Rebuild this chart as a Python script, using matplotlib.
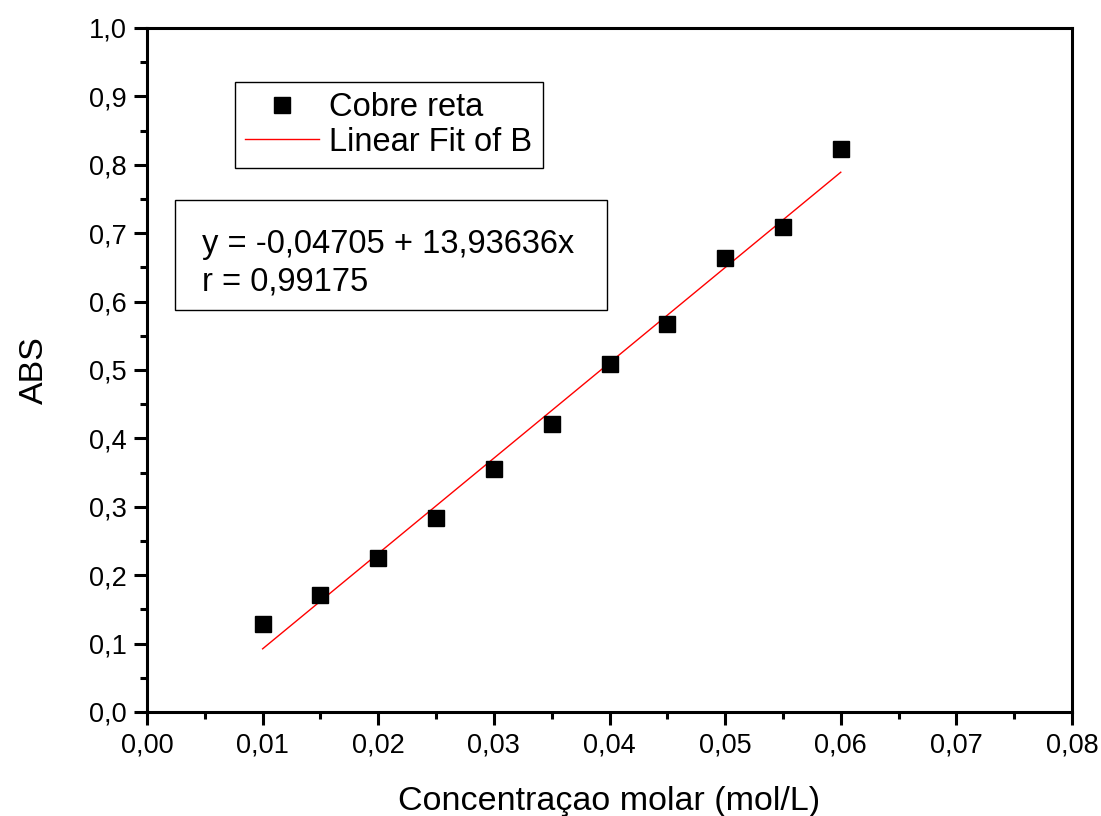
import matplotlib
matplotlib.use("Agg")
import matplotlib.pyplot as plt
import numpy as np
from matplotlib.ticker import MultipleLocator, FuncFormatter
from matplotlib.patches import Rectangle

plt.rcParams['font.family'] = ['Liberation Sans', 'DejaVu Sans']

# concentracao (mol/L) e absorbancia medida
conc = [0.010, 0.015, 0.020, 0.025, 0.030, 0.035, 0.040, 0.045, 0.050, 0.055, 0.060]
abs_vals = [0.128, 0.171, 0.225, 0.284, 0.355, 0.421, 0.509, 0.567, 0.664, 0.709, 0.823]

# coeficientes do ajuste linear
intercepto = -0.04705
inclinacao = 13.93636
r = 0.99175

fig = plt.figure(figsize=(11.01, 8.16), dpi=100)
ax = fig.add_axes([0.1335, 0.1275, 0.8402, 0.8382])

ax.plot(conc, abs_vals, 's', color='black', markersize=11, label='Cobre reta', zorder=3)
xf = np.array([conc[0], conc[-1]])
ax.plot(xf, intercepto + inclinacao * xf, '-', color='red', lw=1, label='Linear Fit of B')

ax.set_xlim(0, 0.08)
ax.set_ylim(0, 1.0)
ax.xaxis.set_major_locator(MultipleLocator(0.01))
ax.xaxis.set_minor_locator(MultipleLocator(0.005))
ax.yaxis.set_major_locator(MultipleLocator(0.1))
ax.yaxis.set_minor_locator(MultipleLocator(0.05))
ax.xaxis.set_major_formatter(FuncFormatter(lambda v, p: f"{v:.2f}".replace('.', ',')))
ax.yaxis.set_major_formatter(FuncFormatter(lambda v, p: f"{v:.1f}".replace('.', ',')))

for s in ax.spines.values():
    s.set_linewidth(2.2)
ax.tick_params(which='major', direction='out', length=9.5, width=2.2, labelsize=19.5, pad=5)
ax.tick_params(which='minor', direction='out', length=5, width=2.2)

ax.set_xlabel('Concentraçao molar (mol/L)', fontsize=24.5, labelpad=20)
ax.set_ylabel('ABS', fontsize=24.5, labelpad=28)

leg = ax.legend(loc='upper left', bbox_to_anchor=(0.095, 0.921), fontsize=23.5,
                frameon=True, fancybox=False, edgecolor='black', framealpha=1,
                borderpad=0.32, borderaxespad=0, handlelength=2.27, handletextpad=0.3,
                labelspacing=0.1, numpoints=1)
leg.get_frame().set_linewidth(1)

# caixa com a equacao do ajuste
ax.add_patch(Rectangle((0.030, 0.588), 0.467, 0.161, transform=ax.transAxes,
                       facecolor='white', edgecolor='black', lw=1, zorder=4))
txt = f"y = {intercepto:.5f} + {inclinacao:.5f}x\nr = {r:.5f}".replace('.', ',')
ax.text(0.060, 0.656, txt, transform=ax.transAxes, fontsize=23.5, va='center', ha='left',
        linespacing=1.27, zorder=5)

fig.savefig('out.png', dpi=100)
